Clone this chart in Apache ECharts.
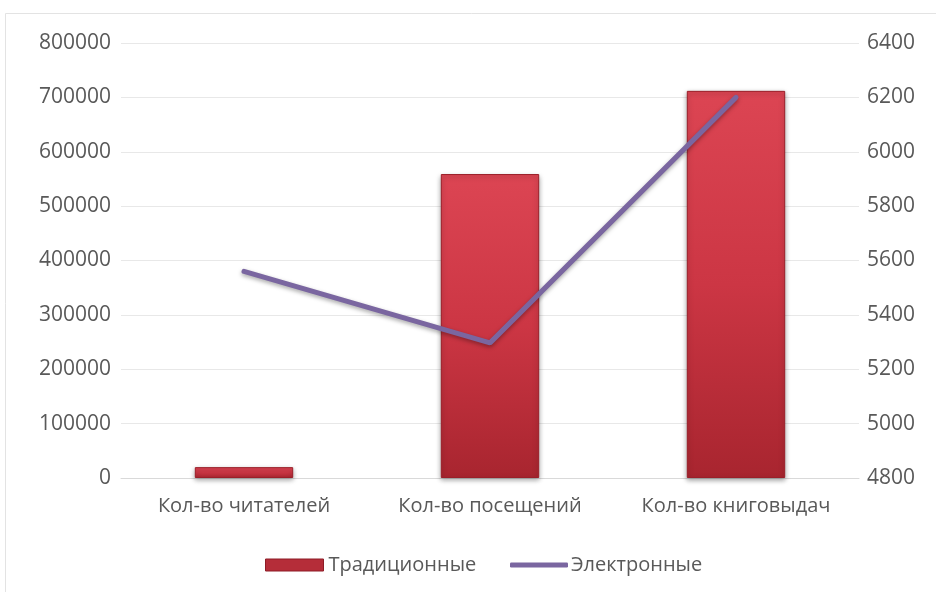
<!DOCTYPE html>
<html><head><meta charset="utf-8">
<script src="https://cdn.jsdelivr.net/npm/echarts@6/dist/echarts.min.js"></script>
<style>html,body{margin:0;padding:0;background:#fff}#c{width:936px;height:592px}</style>
</head><body><div id="c"></div>
<script>
const categories = ['Кол-во читателей', 'Кол-во посещений', 'Кол-во книговыдач'];
const traditional = [20000, 559000, 712000];
const electronic = [5560, 5297, 6200];
const leftTicks = {min: 0, max: 800000, interval: 100000};
const rightTicks = {min: 4800, max: 6400, interval: 200};

const chart = echarts.init(document.getElementById('c'));
const font = '"Open Sans", "Noto Sans", sans-serif';
const txt = '#595959';
chart.setOption({
  animation: false,
  graphic: [{type: 'rect', shape: {x: 5.5, y: 13.5, width: 940, height: 600}, style: {fill: 'none', stroke: '#e3e3e3', lineWidth: 1}, z: -1}],
  grid: {left: 121, right: 77, top: 43, bottom: 114},
  legend: [{
    left: 260, top: 550, itemWidth: 58, itemHeight: 12, itemGap: 10,
    textStyle: {color: txt, fontSize: 20, fontFamily: font, padding: [0, 0, 0, 0]},
    data: [{name: 'Традиционные', icon: 'rect', itemStyle: {color: '#b52d39', borderColor: '#8e1c26', borderWidth: 1}}]
  }, {
    left: 505, top: 550, itemWidth: 58, itemHeight: 5, itemGap: 10,
    textStyle: {color: txt, fontSize: 20, fontFamily: font, padding: [0, 0, 0, -2]},
    data: [{name: 'Электронные', icon: 'roundRect', itemStyle: {color: '#7a66a0'}}]
  }],
  xAxis: {
    type: 'category', data: categories,
    axisLine: {lineStyle: {color: '#d9d9d9', width: 1}},
    axisTick: {show: false},
    axisLabel: {color: txt, fontSize: 20, fontFamily: font, margin: 18}
  },
  yAxis: [{
    type: 'value', min: leftTicks.min, max: leftTicks.max, interval: leftTicks.interval,
    axisLabel: {color: txt, fontSize: 21, fontFamily: font, margin: 10, formatter: v => String(v)},
    splitLine: {lineStyle: {color: '#e8e8e8'}},
    axisLine: {show: false}, axisTick: {show: false}
  }, {
    type: 'value', min: rightTicks.min, max: rightTicks.max, interval: rightTicks.interval,
    axisLabel: {color: txt, fontSize: 21, fontFamily: font, margin: 8, formatter: v => String(v)},
    splitLine: {show: false}, axisLine: {show: false}, axisTick: {show: false}
  }],
  series: [{
    name: 'Традиционные', type: 'bar', data: traditional, barWidth: '40%',
    itemStyle: {
      color: {type: 'linear', x: 0, y: 0, x2: 0, y2: 1, colorStops: [
        {offset: 0, color: '#dc4553'}, {offset: 0.5, color: '#cc3644'}, {offset: 1, color: '#a8252f'}]},
      borderColor: '#9b1f29', borderWidth: 1,
      shadowColor: 'rgba(0,0,0,0.35)', shadowBlur: 5, shadowOffsetY: 2
    }
  }, {
    name: 'Электронные', type: 'line', yAxisIndex: 1, data: electronic,
    symbol: 'none', lineStyle: {color: '#7a66a0', width: 5, cap: 'round', shadowColor: 'rgba(0,0,0,0.35)', shadowBlur: 4, shadowOffsetY: 2},
    itemStyle: {color: '#7a66a0'}
  }]
});
</script></body></html>
